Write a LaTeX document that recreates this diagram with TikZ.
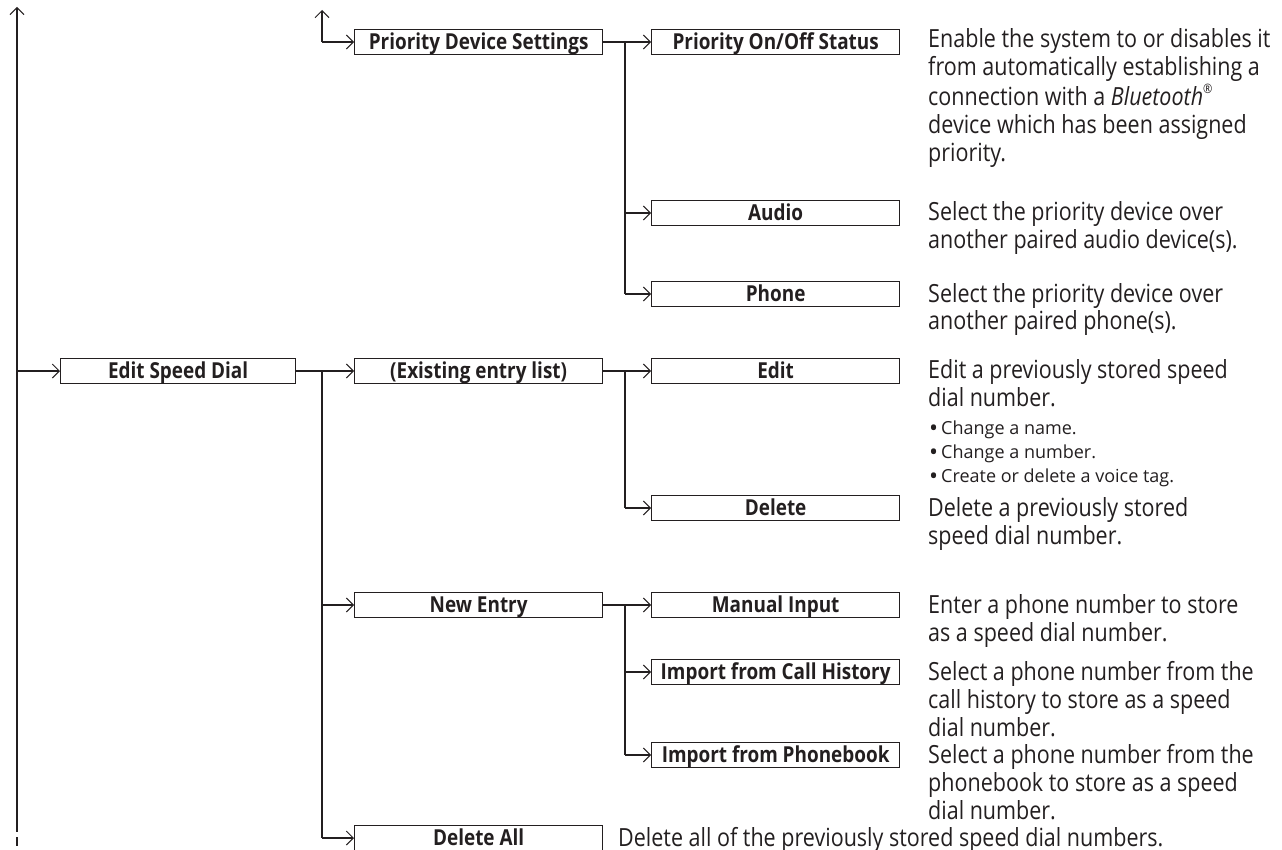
\documentclass[tikz,border=0pt]{standalone}
\usepackage{fontspec}
\setmainfont{Open Sans}[FakeStretch=0.86]
\newfontfamily\bulfont{Open Sans}
\usetikzlibrary{arrows.meta}
\definecolor{ink}{HTML}{231F20}
\newcommand{\mylines}[1]{\begin{tabular}[t]{@{}l@{}}#1\end{tabular}}
\newcommand{\mybul}{\raisebox{-2.2pt}{\fontsize{24}{24}\selectfont\textbullet}\hspace{3pt}}
\begin{document}
\begin{tikzpicture}[x=1pt,y=-1pt,
  line/.style={draw=ink,line width=1.9pt},
  conn/.style={line, -{Straight Barb[length=7pt,width=14pt,line width=1pt]}},
  bx/.style={draw=ink,line width=1.3pt,minimum height=25pt,inner xsep=2pt,inner ysep=0pt,
     anchor=west,text=ink,font=\fontsize{22}{24}\selectfont\bfseries,text height=15.5pt,text depth=0pt},
  box1/.style={bx,minimum width=235pt},
  box2/.style={bx,minimum width=248pt},
  box3/.style={bx,minimum width=248pt},
  desc/.style={anchor=base west,inner sep=0pt,text=ink,font=\fontsize{25}{28}\selectfont},
  small/.style={anchor=base west,inner sep=0pt,text=ink,font=\bulfont\fontsize{18}{24}\selectfont}
]
\useasboundingbox (0,0) rectangle (1282,850);

% main left spine
\coordinate (top) at (17,7);
\coordinate (spA) at (17,371);
\coordinate (spB) at (17,832);
\coordinate (spC) at (17,837);
\coordinate (spD) at (17,846);
\draw[conn] (spA) -- (top);
\draw[line] (spA) -- (spB);
\draw[line,line width=1.5pt] (spC) -- (spD);

% boxes
\node[box2] (pds) at (354,42) {Priority Device Settings};
\node[box3] (pos) at (651,42) {Priority On/Off Status};
\node[box3] (aud) at (651,213) {Audio};
\node[box3] (pho) at (651,294) {Phone};
\node[box1] (esd) at (60,371) {Edit Speed Dial};
\node[box2] (exl) at (354,371) {(Existing entry list)};
\node[box3] (edt) at (651,371) {Edit};
\node[box3] (del) at (651,508) {Delete};
\node[box2] (nen) at (354,605) {New Entry};
\node[box3] (man) at (651,605) {Manual Input};
\node[box3] (ich) at (651,672) {Import from Call History};
\node[box3] (ipb) at (651,755) {Import from Phonebook};
\node[box2] (dal) at (354,838) {Delete All};

% branch coordinates
\coordinate (up1) at (322,10);
\coordinate (c1) at (322,42);
\coordinate (b1) at (625,42);
\coordinate (b1a) at (625,213);
\coordinate (b1b) at (625,294);
\coordinate (c2) at (322,371);
\coordinate (c2a) at (322,605);
\coordinate (c2b) at (322,838);
\coordinate (b2) at (625,371);
\coordinate (b2a) at (625,508);
\coordinate (b3) at (625,605);
\coordinate (b3a) at (625,672);
\coordinate (b3b) at (625,755);

% connectors
\draw[conn] (c1) -- (up1);
\draw[conn] (c1) -- (pds);
\draw[conn] (pds) -- (pos);
\draw[line] (b1) -- (b1b);
\draw[conn] (b1a) -- (aud);
\draw[conn] (b1b) -- (pho);

\draw[conn] (spA) -- (esd);
\draw[conn] (esd) -- (exl);
\draw[line] (c2) -- (c2b);
\draw[conn] (c2a) -- (nen);
\draw[conn] (c2b) -- (dal);

\draw[conn] (exl) -- (edt);
\draw[line] (b2) -- (b2a);
\draw[conn] (b2a) -- (del);

\draw[conn] (nen) -- (man);
\draw[line] (b3) -- (b3b);
\draw[conn] (b3a) -- (ich);
\draw[conn] (b3b) -- (ipb);

% descriptions
\node[desc] (dpos) at (928,48) {\mylines{Enable the system to or disables it\\from automatically establishing a\\connection with a \textit{Bluetooth}\raisebox{0.45em}{\fontsize{13}{13}\selectfont ®}\\device which has been assigned\\priority.}};
\node[desc] (daud) at (928,221) {\mylines{Select the priority device over\\another paired audio device(s).}};
\node[desc] (dpho) at (928,302) {\mylines{Select the priority device over\\another paired phone(s).}};
\node[desc] (dedt) at (928,378) {\mylines{Edit a previously stored speed\\dial number.}};
\node[small] (dbul) at (929,434) {\mylines{\mybul Change a name.\\\mybul Change a number.\\\mybul Create or delete a voice tag.}};
\node[desc] (ddel) at (928,516) {\mylines{Delete a previously stored\\speed dial number.}};
\node[desc] (dman) at (928,613) {\mylines{Enter a phone number to store\\as a speed dial number.}};
\node[desc] (dich) at (928,680) {\mylines{Select a phone number from the\\call history to store as a speed\\dial number.}};
\node[desc] (dipb) at (928,763) {\mylines{Select a phone number from the\\phonebook to store as a speed\\dial number.}};
\node[desc] (ddal) at (618,846) {Delete all of the previously stored speed dial numbers.};
\end{tikzpicture}
\end{document}
